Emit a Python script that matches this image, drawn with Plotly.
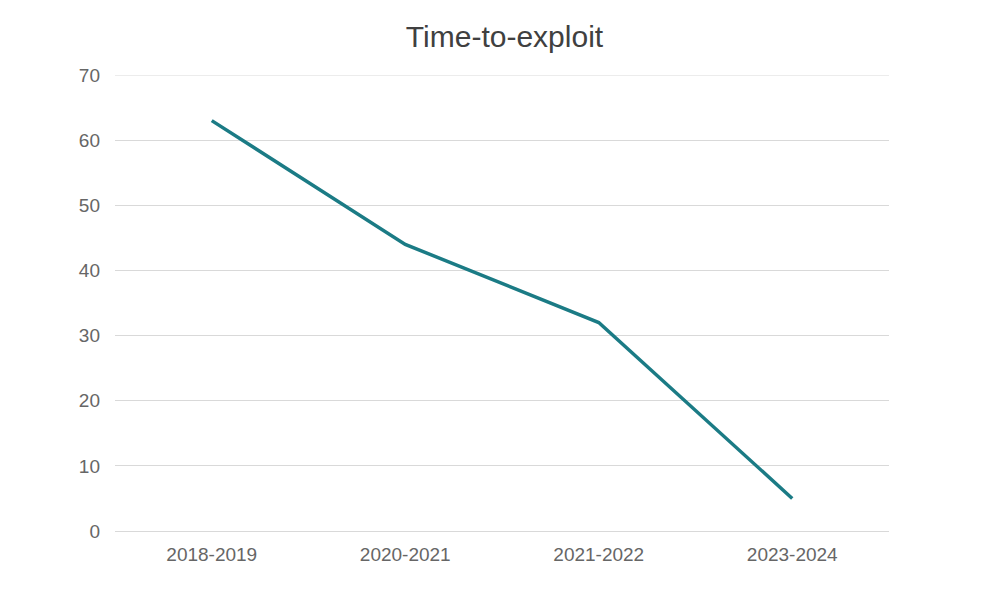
import plotly.graph_objects as go

periods = ["2018-2019", "2020-2021", "2021-2022", "2023-2024"]
days = [63, 44, 32, 5]
y_ticks = [0, 10, 20, 30, 40, 50, 60, 70]

fig = go.Figure()
fig.add_trace(go.Scatter(
    x=periods, y=days, mode="lines",
    line=dict(color="#1b7b85", width=3.5),
    showlegend=False,
))

fig.update_layout(
    width=993, height=603,
    paper_bgcolor="white", plot_bgcolor="white",
    margin=dict(l=107, r=112, t=67, b=80),
    font=dict(family="Liberation Sans, Arial, sans-serif", color="#666666", size=19),
    title=dict(text="Time-to-exploit", x=0.5, xanchor="center", y=0.952, yanchor="middle",
               font=dict(size=30, color="#404040")),
    shapes=[dict(type="line", xref="paper", yref="y", x0=0, x1=1, y0=y_ticks[-1], y1=y_ticks[-1],
                 line=dict(color="#d9d9d9", width=1), layer="below")],
)
fig.update_xaxes(type="category", range=[-0.5, 3.5], showgrid=False, showline=True,
                 linecolor="#d9d9d9", linewidth=1, ticks="", ticklabelstandoff=6,
                 tickfont=dict(size=19, color="#666666"))
fig.update_yaxes(range=[0, 70], tickvals=y_ticks, showgrid=True, gridcolor="#d9d9d9",
                 gridwidth=1, zeroline=False, showline=False, ticks="", ticklabelstandoff=14,
                 tickfont=dict(size=19, color="#666666"))

fig.write_html("out.html")
